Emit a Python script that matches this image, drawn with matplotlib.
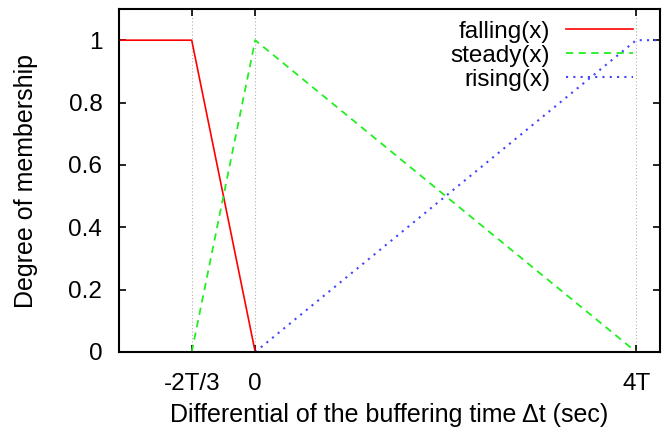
import numpy as np
import matplotlib
matplotlib.use("Agg")
import matplotlib.pyplot as plt

plt.rcParams['font.family'] = ['Liberation Sans', 'DejaVu Sans']

# x in units of T
x_min, x_max = -1.43, 4.25
falling_x = [x_min, -2/3, 0]
falling_y = [1, 1, 0]
steady_x = [-2/3, 0, 4]
steady_y = [0, 1, 0]
rising_x = [0, 4, x_max]
rising_y = [0, 1, 1]

xticks = [-2/3, 0, 4]
xtick_labels = ['-2T/3', '0', '4T']
yticks = [0, 0.2, 0.4, 0.6, 0.8, 1]
ytick_labels = ['0', '0.2', '0.4', '0.6', '0.8', '1']

fs = 18
fig = plt.figure(figsize=(6.62, 4.30), dpi=100)
ax = fig.add_axes([119/662, 1 - 352/430, (660 - 119)/662, (352 - 9)/430])

ax.plot(falling_x, falling_y, color='#ff0000', lw=1.2, label='falling(x)')
ax.plot(steady_x, steady_y, color='#22ee22', lw=1.3, ls=(0, (4, 3)), label='steady(x)')
ax.plot(rising_x, rising_y, color='#4444ff', lw=1.5, ls=(0, (1, 2.5)), label='rising(x)')

for xv in xticks:
    ax.axvline(xv, color='#b0b0b0', lw=0.8, ls=(0, (1, 2)), zorder=0)

ax.set_xlim(x_min, x_max)
ax.set_ylim(0, 1.1)
ax.set_xticks(xticks)
ax.set_xticklabels(xtick_labels, fontsize=17.5)
ax.set_yticks(yticks)
ax.set_yticklabels(ytick_labels, fontsize=17.5)
ax.tick_params(direction='in', top=True, right=True, length=5, width=1.2)
ax.tick_params(axis='y', pad=12)
ax.tick_params(axis='x', pad=15)
for s in ax.spines.values():
    s.set_linewidth(1.5)

ax.set_xlabel('Differential of the buffering time \u0394t (sec)', fontsize=fs, labelpad=6)
ax.set_ylabel('Degree of membership', fontsize=fs, labelpad=22)

leg = ax.legend(loc='upper right', bbox_to_anchor=(0.950, 0.966), frameon=False,
                markerfirst=False, fontsize=17.5, handlelength=2.75, labelspacing=0.08,
                borderpad=0, borderaxespad=0, handletextpad=0.66)

fig.savefig('out.png', dpi=100)
